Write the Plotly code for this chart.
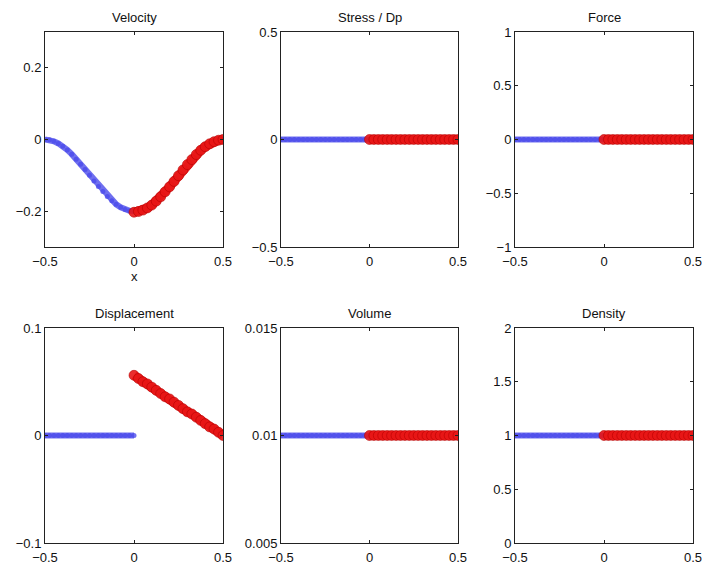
"""Six-panel particle state snapshot (velocity, stress, force, displacement, volume, density)."""

import plotly.graph_objects as go
from plotly.subplots import make_subplots

# particle positions, left (blue) and right (red) halves
x_left = [-0.5, -0.475, -0.45, -0.425, -0.4, -0.375, -0.35, -0.325, -0.3, -0.275, -0.25,
          -0.225, -0.2, -0.175, -0.15, -0.125, -0.1, -0.075, -0.05, -0.025, 0.0]
x_right = [0.0, 0.025, 0.05, 0.075, 0.1, 0.125, 0.15, 0.175, 0.2, 0.225, 0.25,
           0.275, 0.3, 0.325, 0.35, 0.375, 0.4, 0.425, 0.45, 0.475, 0.5]

velocity_left = [0.0, -0.001, -0.005, -0.011, -0.019, -0.029, -0.041, -0.055, -0.069, -0.084, -0.100,
                 -0.116, -0.131, -0.145, -0.159, -0.171, -0.181, -0.189, -0.195, -0.199, -0.200]
velocity_right = [-0.203, -0.201, -0.197, -0.191, -0.183, -0.172, -0.160, -0.146, -0.132, -0.117, -0.101,
                  -0.085, -0.070, -0.056, -0.042, -0.030, -0.020, -0.012, -0.006, -0.002, 0.0]

stress_left = [0.0] * 21
stress_right = [0.0] * 21
force_left = [0.0] * 21
force_right = [0.0] * 21

displacement_left = [0.0] * 21
displacement_right = [0.056, 0.053, 0.050, 0.048, 0.045, 0.042, 0.039, 0.036, 0.034, 0.031, 0.028,
                      0.025, 0.022, 0.020, 0.017, 0.014, 0.011, 0.008, 0.006, 0.003, 0.0]

volume_left = [0.01] * 21
volume_right = [0.01] * 21
density_left = [1.0] * 21
density_right = [1.0] * 21

titles = ["Velocity", "Stress / Dp", "Force", "Displacement", "Volume", "Density"]
panels = [
    (velocity_left, velocity_right, [-0.3, 0.3], [-0.2, 0, 0.2], ["\u22120.2", "0", "0.2"]),
    (stress_left, stress_right, [-0.5, 0.5], [-0.5, 0, 0.5], ["\u22120.5", "0", "0.5"]),
    (force_left, force_right, [-1, 1], [-1, -0.5, 0, 0.5, 1], ["\u22121", "\u22120.5", "0", "0.5", "1"]),
    (displacement_left, displacement_right, [-0.1, 0.1], [-0.1, 0, 0.1], ["\u22120.1", "0", "0.1"]),
    (volume_left, volume_right, [0.005, 0.015], [0.005, 0.01, 0.015], ["0.005", "0.01", "0.015"]),
    (density_left, density_right, [0, 2], [0, 0.5, 1, 1.5, 2], ["0", "0.5", "1", "1.5", "2"]),
]

W, H = 704, 567
col_px = [(45, 223), (281, 458), (515, 693)]
row_px = [(32, 247), (328, 543)]

BLUE = "rgba(75,75,235,0.8)"
RED = "rgba(232,22,22,0.9)"
FONT = "Liberation Sans, Arial, sans-serif"
FS = 13

fig = make_subplots(rows=2, cols=3)

for i, (yl, yr, yrange, ytv, ytt) in enumerate(panels):
    r, c = i // 3 + 1, i % 3 + 1
    fig.add_trace(go.Scatter(
        x=x_left, y=yl, mode="lines+markers",
        line=dict(color=BLUE, width=6),
        marker=dict(symbol="circle", size=5, color=BLUE, line=dict(width=0)),
        showlegend=False, hoverinfo="skip",
    ), row=r, col=c)
    fig.add_trace(go.Scatter(
        x=x_right, y=yr, mode="lines+markers",
        line=dict(color=RED, width=9),
        marker=dict(symbol="circle", size=10, color=RED,
                    line=dict(width=0.8, color="rgba(180,0,0,0.7)")),
        showlegend=False, hoverinfo="skip",
    ), row=r, col=c)

    x0, x1 = col_px[c - 1]
    top, bot = row_px[r - 1]
    fig.update_xaxes(
        domain=[x0 / W, x1 / W], range=[-0.5, 0.5],
        tickvals=[-0.5, 0, 0.5], ticktext=["\u22120.5", "0", "0.5"],
        row=r, col=c,
    )
    fig.update_yaxes(
        domain=[1 - bot / H, 1 - top / H], range=yrange,
        tickvals=ytv, ticktext=ytt,
        row=r, col=c,
    )
    fig.add_annotation(
        text=titles[i], x=(x0 + x1) / 2 / W, y=1 - (top - 5) / H,
        xref="paper", yref="paper", xanchor="center", yanchor="bottom",
        showarrow=False, font=dict(family=FONT, size=FS, color="#111"),
    )

axis_style = dict(showgrid=False, zeroline=False, showline=True, linecolor="#222", linewidth=1,
                  mirror="ticks", ticks="inside", ticklen=3, tickcolor="#222",
                  automargin=False, ticklabeloverflow="allow",
                  tickfont=dict(family=FONT, size=FS, color="#111"))
fig.update_xaxes(**axis_style, ticklabelstandoff=2)
fig.update_yaxes(**axis_style)

# x label under the first panel only
fig.add_annotation(
    text="x", x=(col_px[0][0] + col_px[0][1]) / 2 / W, y=1 - 277 / H,
    xref="paper", yref="paper", xanchor="center", yanchor="middle",
    showarrow=False, font=dict(family=FONT, size=FS, color="#111"),
)

fig.update_layout(
    width=W, height=H,
    margin=dict(l=0, r=0, t=0, b=0, pad=0, autoexpand=False),
    paper_bgcolor="white", plot_bgcolor="white",
)

# drop the default page margin so the figure fills the window exactly
fig.write_html("out.html", config={"displayModeBar": False},
               post_script="document.body.style.margin='0';document.body.style.overflow='hidden';")
